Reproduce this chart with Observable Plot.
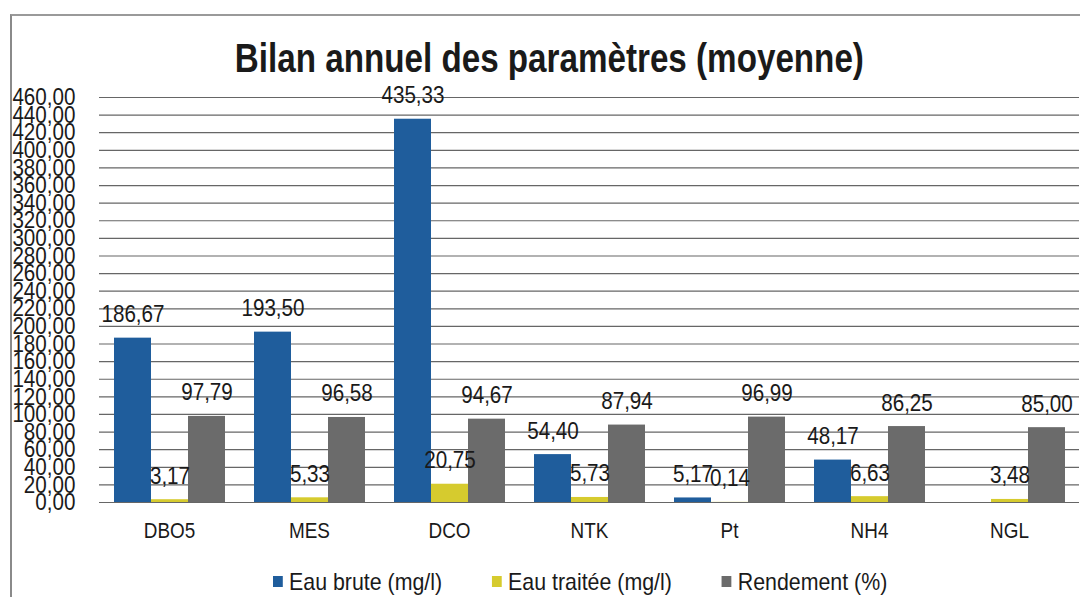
<!DOCTYPE html>
<html><head><meta charset="utf-8">
<script src="https://cdn.jsdelivr.net/npm/d3@7"></script>
<script src="https://cdn.jsdelivr.net/npm/@observablehq/plot@0.6"></script>
<style>
body{margin:0;background:#fff;overflow:hidden;width:1080px;height:597px;position:relative;font-family:"Liberation Sans Narrow","Arial Narrow","Liberation Sans",sans-serif}
#frame{position:absolute;left:10px;top:14px;width:1090px;height:600px;border-left:2px solid #8a8a8a;border-top:2px solid #9a9a9a}
#title{position:absolute;left:8px;top:36px;width:1080px;text-align:center;font-weight:bold;font-size:40px;color:#1a1a1a;transform:scaleX(0.83);transform-origin:548px 0}
#chart{position:absolute;left:0;top:88px}
#legend{position:absolute;left:273px;top:565px;transform:scaleX(0.89);transform-origin:0 0;white-space:nowrap}
#legend .lg-swatch{margin-right:56px !important;font-size:24px;color:#1a1a1a}
#legend .lg-swatch svg{margin-right:7px !important}
</style></head>
<body>
<div id="frame"></div>
<div id="title">Bilan annuel des paramètres (moyenne)</div>
<div id="chart"></div>
<div id="legend"></div>
<script>
const categories = ["DBO5","MES","DCO","NTK","Pt","NH4","NGL"];
const series = ["Eau brute (mg/l)","Eau traitée (mg/l)","Rendement (%)"];
const eauBrute = [186.67,193.50,435.33,54.40,5.17,48.17,null];
const eauTraitee = [3.17,5.33,20.75,5.73,0.14,6.63,3.48];
const rendement = [97.79,96.58,94.67,87.94,96.99,86.25,85.00];
const yTicks = d3.range(0,461,20);
const colors = ["#1f5d9c","#d6cb2e","#6b6b6b"];

const data = [];
[eauBrute, eauTraitee, rendement].forEach((arr, si) => {
  arr.forEach((v, ci) => { if (v != null) data.push({cat: categories[ci], series: series[si], value: v}); });
});
const fmt = v => d3.format(".2f")(v).replace(".", ",");
const font = '"Liberation Sans Narrow","Arial Narrow","Liberation Sans",sans-serif';

const chart = Plot.plot({
  width: 1080, height: 464,
  marginTop: 9, marginBottom: 50, marginLeft: 98, marginRight: 1,
  style: {fontFamily: font, fontSize: "24px", color: "#1a1a1a", background: "transparent", overflow: "visible"},
  fx: {domain: categories, padding: 0, label: null, axis: null},
  x: {domain: series, paddingInner: 0, paddingOuter: 0.35, axis: null},
  y: {domain: [0,460], axis: null},
  color: {domain: series, range: colors},
  marks: [
    Plot.ruleY(yTicks, {stroke: "#333", strokeOpacity: 0.75, strokeWidth: 1.2}),
    Plot.barY(data, {fx: "cat", x: "series", y: "value", fill: "series"}),
    Plot.text(data, {fx: "cat", x: "series", y: "value", text: d => fmt(d.value), dy: -16, lineAnchor: "bottom", fontSize: 24, fill: "#1a1a1a"}),
    Plot.axisY(yTicks, {tickSize: 0, tickPadding: 24, tickFormat: fmt, fontSize: 24, label: null}),
    Plot.axisFx({tickSize: 0, tickPadding: 20, fontSize: 22, label: null, anchor: "bottom"})
  ]
});
// condense the glyphs horizontally (no narrow face installed)
d3.select(chart).selectAll("text").each(function() {
  const t = d3.select(this);
  const tr = t.attr("transform");
  if (tr) t.attr("transform", tr + " scale(0.86,1)");
  else {
    const x = +t.attr("x") || 0, y = +t.attr("y") || 0;
    t.attr("x", null).attr("y", null).attr("transform", `translate(${x},${y}) scale(0.86,1)`);
  }
});
document.getElementById("chart").appendChild(chart);

const leg = Plot.legend({color: {domain: series, range: colors}, swatchSize: 11, className: "lg", style: {fontFamily: font, fontSize: "24px"}});
document.getElementById("legend").appendChild(leg);
</script>
</body></html>
